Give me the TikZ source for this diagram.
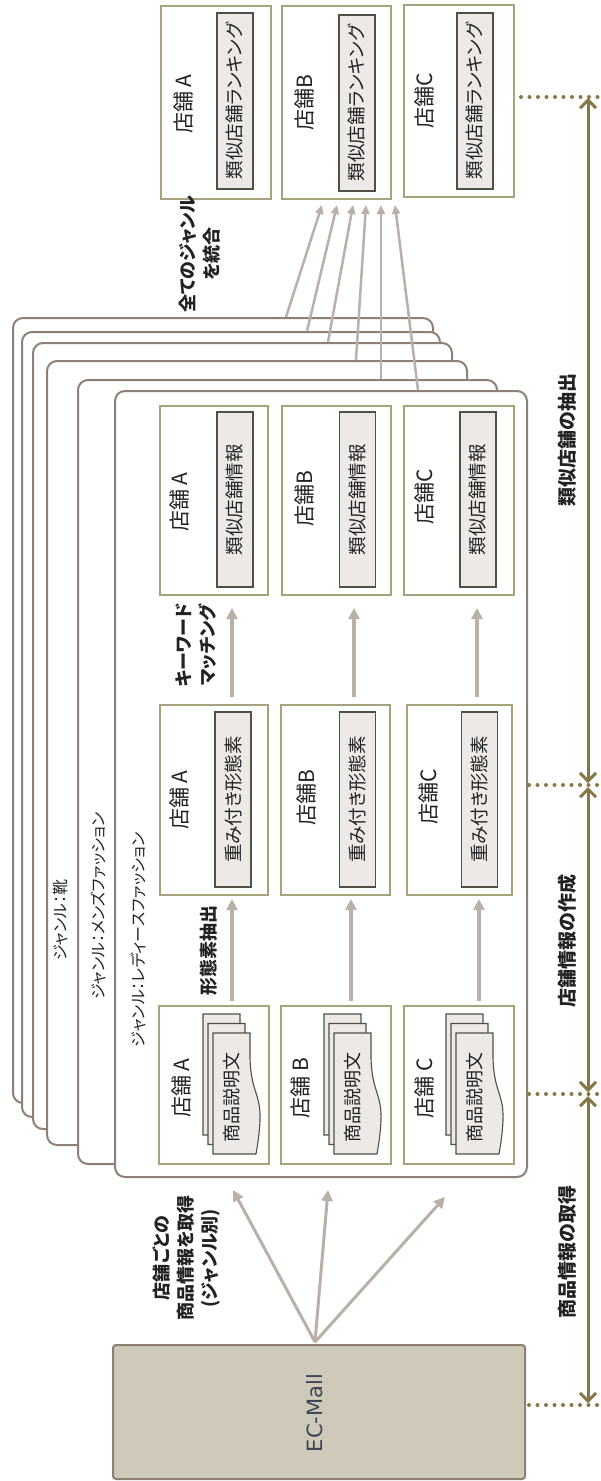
\documentclass[tikz,border=0pt]{standalone}
\usepackage{fontspec}
\setmainfont{Noto Sans CJK JP}[RawFeature={+palt}]
\newfontfamily\ecfont{DejaVu Sans}
\usetikzlibrary{arrows.meta}
\definecolor{framec}{HTML}{8E8074}
\definecolor{boxc}{HTML}{A6A27C}
\definecolor{barfill}{HTML}{ECE9E6}
\definecolor{barline}{HTML}{505048}
\definecolor{arrc}{HTML}{B9B0A7}
\definecolor{olive}{HTML}{857846}
\definecolor{ecfill}{HTML}{CFC9B9}
\definecolor{ecline}{HTML}{8D7F73}
\definecolor{ecblue}{HTML}{3A4656}
\definecolor{txt}{HTML}{222222}
\newcommand\mydoc[2]{%
  \begin{scope}[shift={(#1,#2)}]
    \draw[docst] (0,0) -- (37,0) -- (37,25) .. controls (38,60) and (48,60) .. (47,88)
      .. controls (46,105) and (44,115) .. (43,121) -- (0,121) -- cycle;
  \end{scope}}
\begin{document}
\begin{tikzpicture}[x=1pt,y=-1pt,
  frame/.style={draw=framec, line width=2pt, fill=white, rounded corners=10pt, inner sep=0pt},
  shopbox/.style={draw=boxc, line width=2pt, fill=white, inner sep=0pt},
  bar/.style={draw=barline, fill=barfill, line width=1.3pt, inner sep=0pt, rotate=90,
    minimum height=36pt, text=txt, font=\fontsize{18.5}{20}\selectfont},
  lbl/.style={rotate=90, text=txt, font=\fontsize{21}{24}\selectfont, inner sep=0pt},
  blbl/.style={rotate=90, text=txt, font=\bfseries\fontsize{18}{24}\selectfont, align=center, inner sep=0pt},
  genre/.style={rotate=90, text=txt, font=\fontsize{16}{18}\selectfont, inner sep=0pt},
  doctext/.style={rotate=90, text=txt, font=\fontsize{18}{20}\selectfont, inner sep=0pt},
  docst/.style={draw=barline, fill=barfill, line width=1.1pt},
  garrow/.style={draw=arrc, line width=3.5pt, -{Triangle[length=11pt,width=11pt]}},
  farrow/.style={draw=arrc, line width=2.5pt, -{Triangle[length=9pt,width=8pt]}},
  oarrow/.style={draw=olive, line width=3pt, {Straight Barb[length=8pt,width=16pt]}-{Straight Barb[length=8pt,width=16pt]}},
  dotl/.style={draw=olive, line width=4pt, line cap=round, dash pattern=on 0pt off 8.5pt}
]
\useasboundingbox (0,0) rectangle (601,1481);

% ---------- ranking row (top) ----------
\node[shopbox, minimum width=110pt, minimum height=193pt] (rA) at (216,102.5) {};
\node[shopbox, minimum width=109pt, minimum height=193pt] (rB) at (336.5,102.5) {};
\node[shopbox, minimum width=110pt, minimum height=192pt] (rC) at (459,101) {};
\node[bar, minimum width=176pt] (rbA) at (235,101) {類似店舗ランキング};
\node[bar, minimum width=176pt] (rbB) at (357,103) {類似店舗ランキング};
\node[bar, minimum width=176pt] (rbC) at (475,101) {類似店舗ランキング};
\node[lbl] (rlA) at (184,104) {店舗 A};
\node[lbl] (rlB) at (305,103) {店舗B};
\node[lbl] (rlC) at (425,101) {店舗C};

\node[blbl, anchor=west] (merge) at (199.5,313) {全てのジャンル\\を統合};

% ---------- genre frames ----------
\node[frame, minimum width=420pt, minimum height=785pt] (f1) at (223,710.5) {};
\node[frame, minimum width=418pt, minimum height=785pt] (f2) at (231,724.5) {};
\node[frame, minimum width=419pt, minimum height=786pt] (f3) at (242.5,736) {};
\node[frame, minimum width=420pt, minimum height=784pt] (f4) at (257,753) {};
\node[frame, minimum width=419pt, minimum height=784pt] (f5) at (287.5,772) {};
\node[frame, minimum width=412pt, minimum height=786pt] (f6) at (321,784) {};

\node[genre] (g4) at (61,920) {ジャンル：靴};
\node[genre] (g5) at (98,906) {ジャンル：メンズファッション};
\node[genre] (g6) at (138,940) {ジャンル：レディースファッション};

% arrows frames -> ranking B
\draw[farrow] (286,0 |- f1.north) -- (322,205);
\draw[farrow] (307,0 |- f2.north) -- (337,205);
\draw[farrow] (328,0 |- f3.north) -- (353,205);
\draw[farrow] (356,0 |- f4.north) -- (366,205);
\draw[farrow] (381,0 |- f5.north) -- (381,205);
\draw[farrow] (418,0 |- f6.north) -- (395,205);

% ---------- similar-shop info row ----------
\node[shopbox, minimum width=108pt, minimum height=189pt] (sA) at (214,500.5) {};
\node[shopbox, minimum width=109pt, minimum height=189pt] (sB) at (336.5,500.5) {};
\node[shopbox, minimum width=110pt, minimum height=189pt] (sC) at (459,500.5) {};
\node[bar, minimum width=175pt] (sbA) at (235,499.5) {類似店舗情報};
\node[bar, minimum width=175pt] (sbB) at (357.5,499.5) {類似店舗情報};
\node[bar, minimum width=175pt] (sbC) at (478,499.5) {類似店舗情報};
\node[lbl] (slA) at (180,502) {店舗 A};
\node[lbl] (slB) at (305,499) {店舗B};
\node[lbl] (slC) at (425,497) {店舗C};

% ---------- weighted morpheme row ----------
\node[shopbox, minimum width=108pt, minimum height=190pt] (wA) at (214,800) {};
\node[shopbox, minimum width=109pt, minimum height=190pt] (wB) at (335.5,800) {};
\node[shopbox, minimum width=105pt, minimum height=190pt] (wC) at (459.5,800) {};
\node[bar, minimum width=175pt] (wbA) at (233,799.5) {重み付き形態素};
\node[bar, minimum width=175pt] (wbB) at (357.5,799.5) {重み付き形態素};
\node[bar, minimum width=175pt] (wbC) at (479.5,799.5) {重み付き形態素};
\node[lbl] (wlA) at (180,800) {店舗 A};
\node[lbl] (wlB) at (307,798) {店舗B};
\node[lbl] (wlC) at (429,797) {店舗C};

% ---------- product description row ----------
\node[shopbox, minimum width=110pt, minimum height=158pt] (dA) at (214,1085) {};
\node[shopbox, minimum width=110pt, minimum height=158pt] (dB) at (336,1085) {};
\node[shopbox, minimum width=110pt, minimum height=158pt] (dC) at (459,1085) {};
\mydoc{203}{1014}\mydoc{208}{1023.5}\mydoc{213}{1033}
\mydoc{324}{1014}\mydoc{329}{1023.5}\mydoc{334}{1033}
\mydoc{446}{1014}\mydoc{451}{1023.5}\mydoc{456}{1033}
\node[doctext] (dtA) at (232,1097) {商品説明文};
\node[doctext] (dtB) at (353,1097) {商品説明文};
\node[doctext] (dtC) at (475,1097) {商品説明文};
\node[lbl] (dlA) at (182,1088) {店舗 A};
\node[lbl] (dlB) at (301,1088) {店舗 B};
\node[lbl] (dlC) at (425,1088) {店舗 C};

% arrows between rows
\draw[garrow, shorten <=4pt, shorten >=3pt] (232,0 |- dA.north) -- (232,0 |- wA.south);
\draw[garrow, shorten <=4pt, shorten >=3pt] (351,0 |- dB.north) -- (351,0 |- wB.south);
\draw[garrow, shorten <=4pt, shorten >=3pt] (479,0 |- dC.north) -- (479,0 |- wC.south);
\node[blbl] (morph) at (209,950) {形態素抽出};

\draw[garrow, shorten <=7pt, shorten >=12pt] (232,0 |- wA.north) -- (232,0 |- sA.south);
\draw[garrow, shorten <=7pt, shorten >=12pt] (354,0 |- wB.north) -- (354,0 |- sB.south);
\draw[garrow, shorten <=7pt, shorten >=12pt] (477,0 |- wC.north) -- (477,0 |- sC.south);
\node[blbl] (kw) at (196.5,645) {キーワード\\マッチング};

% ---------- EC-Mall ----------
\node[draw=ecline, fill=ecfill, line width=2pt, rounded corners=3pt, minimum width=412pt, minimum height=134pt] (ec) at (319,1412) {};
\node[rotate=90, text=ecblue, font=\ecfont\fontsize{21}{24}\selectfont, inner sep=0pt] (ect) at (315,1413) {EC-Mall};
\coordinate (eo) at (315,1342);
\coordinate (etA) at (233,1190);
\coordinate (etB) at (328,1190);
\coordinate (etC) at (445,1197);
\draw[garrow, line width=3pt] (eo) -- (etA);
\draw[garrow, line width=3pt] (eo) -- (etB);
\draw[garrow, line width=3pt] (eo) -- (etC);
\node[blbl] (get) at (186.5,1258) {店舗ごとの\\商品情報を取得\\(ジャンル別)};

% ---------- right-hand phase arrows ----------
\coordinate (p1) at (588,97);
\coordinate (p2) at (588,785);
\coordinate (p3) at (588,1094);
\coordinate (p4) at (588,1405);
\draw[dotl] (521,97) -- (601,97);
\draw[dotl] (529,785) -- (601,785);
\draw[dotl] (529,1094) -- (601,1094);
\draw[dotl] (529,1405) -- (601,1405);
\draw[oarrow, shorten <=1pt, shorten >=2pt] (p1) -- (p2);
\draw[oarrow, shorten <=2pt, shorten >=2pt] (p2) -- (p3);
\draw[oarrow, shorten <=2pt, shorten >=2pt] (p3) -- (p4);
\node[blbl, font=\bfseries\fontsize{19}{24}\selectfont] (ph1) at (567,440) {類似店舗の抽出};
\node[blbl, font=\bfseries\fontsize{19}{24}\selectfont] (ph2) at (567,941) {店舗情報の作成};
\node[blbl, font=\bfseries\fontsize{19}{24}\selectfont] (ph3) at (567,1252) {商品情報の取得};
\end{tikzpicture}
\end{document}
